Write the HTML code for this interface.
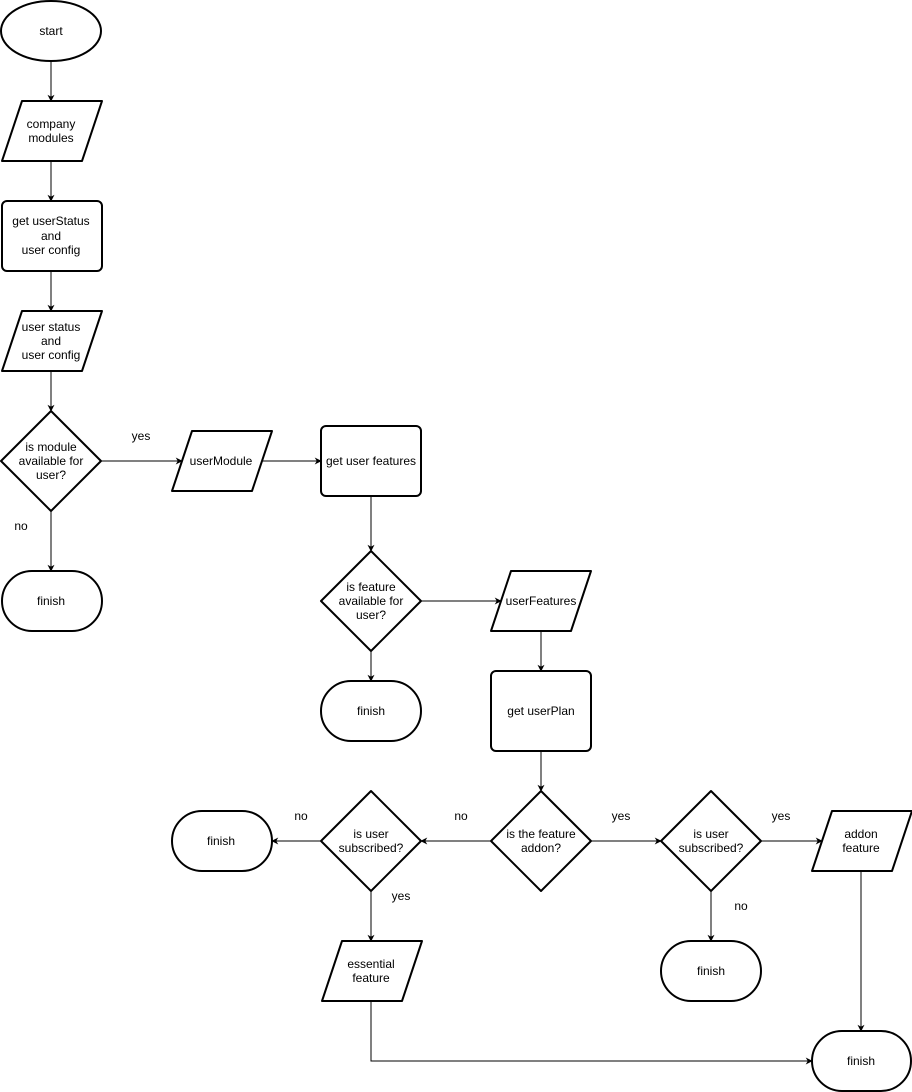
<!DOCTYPE html>
<html><head><meta charset="utf-8"><style>body{margin:0;background:#fff}svg{display:block}text{font-family:"Liberation Sans",Arial,sans-serif;font-size:12px;fill:#000}</style></head><body>
<svg width="912" height="1092" viewBox="0 0 912 1092" xmlns="http://www.w3.org/2000/svg">
<defs><marker id="a" viewBox="0 0 10 10" refX="9" refY="5" markerWidth="7" markerHeight="7" orient="auto" markerUnits="userSpaceOnUse"><path d="M0,0 L10,5 L0,10 L3,5 z" fill="#000"/></marker></defs>
<g fill="#fff" stroke="#000" stroke-width="2" stroke-linejoin="round">
<ellipse cx="51" cy="31" rx="50" ry="30"/>
<path d="M22,101 H102 L82,161 H2 Z"/>
<rect x="2" y="201" width="100" height="70" rx="5"/>
<path d="M22,311 H102 L82,371 H2 Z"/>
<path d="M51,411 L101,461 L51,511 L1,461 Z"/>
<rect x="2" y="571" width="100" height="60" rx="30"/>
<path d="M192,431 H272 L252,491 H172 Z"/>
<rect x="321" y="426" width="100" height="70" rx="5"/>
<path d="M371,551 L421,601 L371,651 L321,601 Z"/>
<rect x="321" y="681" width="100" height="60" rx="30"/>
<path d="M511,571 H591 L571,631 H491 Z"/>
<rect x="491" y="671" width="100" height="80" rx="5"/>
<path d="M541,791 L591,841 L541,891 L491,841 Z"/>
<path d="M371,791 L421,841 L371,891 L321,841 Z"/>
<rect x="172" y="811" width="100" height="60" rx="30"/>
<path d="M342,941 H422 L402,1001 H322 Z"/>
<path d="M711,791 L761,841 L711,891 L661,841 Z"/>
<rect x="661" y="941" width="100" height="60" rx="30"/>
<path d="M832,811 H912 L892,871 H812 Z"/>
<rect x="812" y="1031" width="99" height="60" rx="30"/>
</g>
<g stroke="#000" stroke-width="1" fill="none" marker-end="url(#a)">
<path d="M51,61 V101"/><path d="M51,161 V201"/><path d="M51,271 V311"/><path d="M51,371 V411"/>
<path d="M51,511 V571"/><path d="M101,461 H182"/><path d="M262,461 H321"/>
<path d="M371,496 V551"/><path d="M371,651 V681"/><path d="M421,601 H501"/>
<path d="M541,631 V671"/><path d="M541,751 V791"/>
<path d="M491,841 H421"/><path d="M321,841 H272"/><path d="M371,891 V941"/>
<path d="M591,841 H661"/><path d="M761,841 H822"/><path d="M711,891 V941"/>
<path d="M861,871 V1031"/><path d="M371,1001 V1061 H812"/>
</g>
<g text-anchor="middle">
<text x="51" y="35">start</text>
<text x="51" y="128">company</text><text x="51" y="142">modules</text>
<text x="51" y="225">get userStatus</text><text x="51" y="240">and</text><text x="51" y="254">user config</text>
<text x="51" y="331">user status</text><text x="51" y="345">and</text><text x="51" y="359">user config</text>
<text x="51" y="451">is module</text><text x="51" y="465">available for</text><text x="51" y="479">user?</text>
<text x="51" y="605">finish</text>
<text x="141" y="440">yes</text><text x="21" y="530">no</text>
<text x="221" y="465">userModule</text>
<text x="371" y="465">get user features</text>
<text x="371" y="591">is feature</text><text x="371" y="605">available for</text><text x="371" y="619">user?</text>
<text x="371" y="715">finish</text>
<text x="541" y="605">userFeatures</text>
<text x="541" y="715">get userPlan</text>
<text x="541" y="838">is the feature</text><text x="541" y="852">addon?</text>
<text x="371" y="838">is user</text><text x="371" y="852">subscribed?</text>
<text x="221" y="845">finish</text>
<text x="371" y="968">essential</text><text x="371" y="982">feature</text>
<text x="711" y="838">is user</text><text x="711" y="852">subscribed?</text>
<text x="711" y="975">finish</text>
<text x="861" y="838">addon</text><text x="861" y="852">feature</text>
<text x="861" y="1065">finish</text>
<text x="301" y="820">no</text><text x="461" y="820">no</text><text x="621" y="820">yes</text>
<text x="781" y="820">yes</text><text x="401" y="900">yes</text><text x="741" y="910">no</text>
</g>
</svg>
</body></html>
